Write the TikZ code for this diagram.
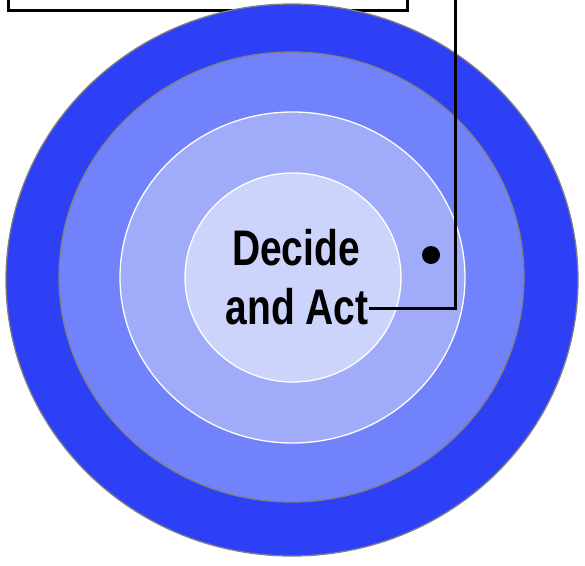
\documentclass[tikz,border=0pt]{standalone}
\usepackage{graphicx}
\usepackage{fontspec}
\setmainfont{Liberation Sans}
\usetikzlibrary{shapes.geometric,calc}
\definecolor{ringouter}{RGB}{46,64,246}
\definecolor{ringmid}{RGB}{113,130,250}
\definecolor{ringinner}{RGB}{160,172,250}
\definecolor{ringcore}{RGB}{205,212,252}
\definecolor{ringedge}{RGB}{128,128,128}

\begin{document}
\begin{tikzpicture}[
  x=1pt, y=-1pt,
  ring/.style={ellipse, inner sep=0pt, line width=1.3pt},
  panel/.style={draw=black, fill=white, line width=3pt, inner sep=0pt},
  wire/.style={draw=black, line width=3pt},
  word/.style={font=\fontsize{50}{59}\bfseries\selectfont, inner sep=0pt, anchor=base},
  pinstyle/.style={circle, fill=black, inner sep=0pt, minimum size=18pt}
]
\clip (0,0) rectangle (585,565);
\useasboundingbox (0,0) rectangle (585,565);
\node[panel, minimum width=399pt, minimum height=60pt, anchor=south west] (panel) at (7,11.5) {};
\node[ring, draw=ringedge, fill=ringouter, minimum width=572pt, minimum height=552pt] (outer) at (292,280) {};
\node[ring, draw=ringedge, fill=ringmid, minimum width=465pt, minimum height=450pt] (mid) at (291.5,277) {};
\node[ring, draw=white, fill=ringinner, minimum width=345pt, minimum height=331pt] (inner) at (292.5,277.5) {};
\node[ring, draw=white, fill=ringcore, minimum width=216pt, minimum height=209pt] (core) at (293,277.5) {};
\node[word] (decide) at (296,265) {\scalebox{0.78}[1]{Decide}};
\node[word] (andact) at (297,324) {\scalebox{0.78}[1]{and Act}};
\node[pinstyle] (pin) at (431,255) {};
\coordinate (top) at (455,-5);
\draw[wire] ([yshift=-2pt]andact.east) -| (top);
\end{tikzpicture}
\end{document}
